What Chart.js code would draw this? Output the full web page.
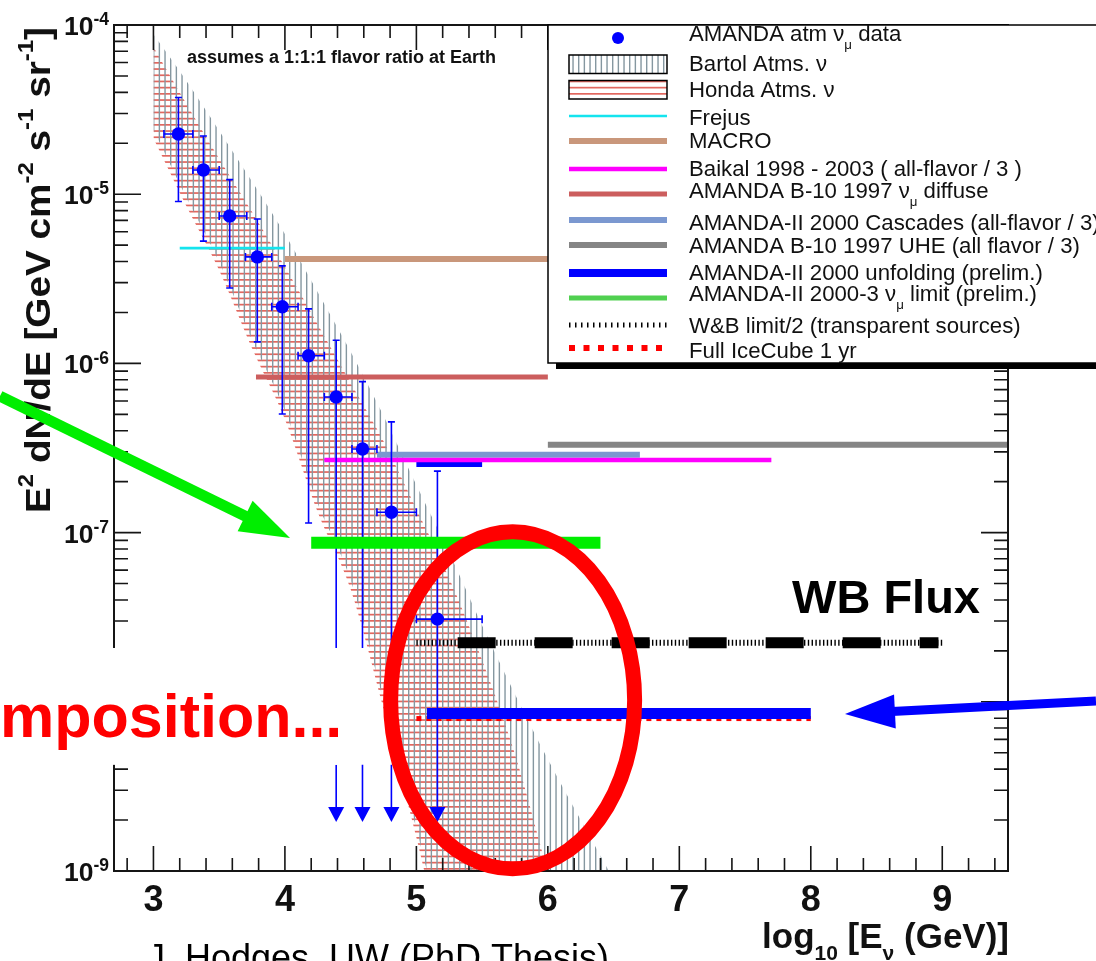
<!DOCTYPE html>
<html>
<head>
<meta charset="utf-8">
<title>Diffuse neutrino flux limits</title>
<script src="https://cdn.jsdelivr.net/npm/chart.js@4.4.1/dist/chart.umd.min.js"></script>
<style>
  html, body { margin: 0; padding: 0; background: #fff; overflow: hidden; }
</style>
</head>
<body>
<canvas id="limitChart" width="1096" height="961"></canvas>
<script>
// ---- values: x = log10(E/GeV), y = E^2 dN/dE [GeV cm^-2 s^-1 sr^-1] ----
const xRange = [2.7, 9.5];
const yRange = [1e-9, 1e-4];
const xTickValues = [3, 4, 5, 6, 7, 8, 9];
const xTickLabels = ['3', '4', '5', '6', '7', '8', '9'];
const yTickValues = [1e-9, 1e-8, 1e-7, 1e-6, 1e-5, 1e-4];
const yTickLabels = ['10^{-9}', '10^{-8}', '10^{-7}', '10^{-6}', '10^{-5}', '10^{-4}'];

// AMANDA atm nu_mu data (unfolded spectrum)
const amandaLogE   = [3.19, 3.38, 3.58, 3.79, 3.98, 4.18, 4.39, 4.59, 4.81, 5.16];
const amandaLogELo = [3.08, 3.30, 3.50, 3.70, 3.90, 4.10, 4.30, 4.51, 4.70, 5.00];
const amandaLogEHi = [3.30, 3.50, 3.71, 3.90, 4.10, 4.30, 4.51, 4.70, 5.00, 5.50];
const amandaFlux   = [2.27e-5, 1.39e-5, 7.43e-6, 4.26e-6, 2.16e-6, 1.11e-6, 6.33e-7, 3.12e-7, 1.32e-7, 3.08e-8];
const amandaFluxHi = [3.73e-5, 2.21e-5, 1.22e-5, 7.13e-6, 3.77e-6, 2.10e-6, 1.37e-6, 7.80e-7, 4.51e-7, 2.31e-7];
const amandaFluxLo = [9.06e-6, 5.28e-6, 2.79e-6, 1.34e-6, 5.02e-7, 1.14e-7, 2.08e-8, 2.08e-8, 2.08e-8, 4.24e-9];
// lower error compatible with zero -> arrows
const arrowLogE = [4.39, 4.59, 4.81, 5.16];
const arrowFrom = 4.24e-9;
const arrowTip = 1.95e-9;

// atmospheric bands (upper / lower edge)
const bartolLogE = [3.0, 3.25, 3.5, 3.75, 4.0, 4.25, 4.5, 4.75, 5.0, 5.25, 5.5, 5.75, 6.0, 6.25, 6.5];
const bartolHi = [8.81e-5, 4.68e-5, 2.37e-5, 1.19e-5, 5.82e-6, 2.63e-6, 1.17e-6, 4.90e-7, 1.91e-7, 7.59e-8, 2.82e-8, 1.11e-8, 4.57e-9, 2.00e-9, 8.9e-10];
const bartolLo = [2.40e-5, 9.55e-6, 3.98e-6, 1.38e-6, 5.25e-7, 1.48e-7, 5.25e-8, 1.02e-8, 1.78e-9, 3.2e-10, 1e-10, 1e-10, 1e-10, 1e-10, 1e-10];
const hondaLogE = [3.0, 3.25, 3.5, 3.75, 4.0, 4.25, 4.5, 4.75, 5.0, 5.25, 5.5, 5.75, 6.0];
const hondaHi = [7.41e-5, 3.43e-5, 1.62e-5, 7.85e-6, 3.72e-6, 1.70e-6, 7.67e-7, 3.47e-7, 1.38e-7, 5.37e-8, 1.76e-8, 4.90e-9, 9.8e-10];
const hondaLo = [2.14e-5, 8.51e-6, 3.55e-6, 1.23e-6, 4.68e-7, 1.32e-7, 4.62e-8, 9.1e-9, 1.58e-9, 2.5e-10, 1e-10, 1e-10, 1e-10];

// flat limits
const limitLabels = [
  'Frejus',
  'MACRO',
  'Baikal 1998 - 2003 ( all-flavor / 3 )',
  'AMANDA B-10 1997 ν_{μ} diffuse',
  'AMANDA-II 2000 Cascades (all-flavor / 3)',
  'AMANDA B-10 1997 UHE (all flavor / 3)',
  'AMANDA-II 2000 unfolding (prelim.)',
  'AMANDA-II 2000-3 ν_{μ} limit (prelim.)',
  'W&B limit/2 (transparent sources)',
  'Full IceCube 1 yr'
];
const limitFrom = [3.2, 4.0, 4.3, 3.78, 4.7, 6.0, 5.0, 4.2, 5.0, 5.0];
const limitTo   = [4.0, 6.0, 7.7, 6.0, 6.7, 9.5, 5.5, 6.4, 9.0, 8.0];
const limitFlux = [4.8e-6, 4.14e-6, 2.69e-7, 8.3e-7, 2.88e-7, 3.3e-7, 2.56e-7, 8.7e-8, 2.23e-8, 7.96e-9];

// marks added on the slide over the plot
const wbMarkLogE = [5.314, 8.971];
const wbMarkFlux = 2.23e-8;
const icMarkLogE = [5.08, 8.0];
const icMarkFlux = 8.53e-9;

const amandaLabel = 'AMANDA atm ν_{μ} data';
const bartolLabel = 'Bartol Atms. ν';
const hondaLabel = 'Honda Atms. ν';
const noteText = 'assumes a 1:1:1 flavor ratio at Earth';
const xTitle = 'log_{10} [E_{ν} (GeV)]';
const yTitle = 'E^{2} dN/dE [GeV cm^{-2} s^{-1} sr^{-1}]';
const slideTexts = ['WB Flux', 'mposition...', 'J. Hodges, UW (PhD Thesis)'];

// ---- styles ----
const FONT = '"Liberation Sans", Arial, Helvetica, sans-serif';
const limitStyles = [
  { color: '#14e4ee', width: 2.7 },
  { color: '#c9977b', width: 6 },
  { color: '#ff00ff', width: 4.5 },
  { color: '#cc5e5e', width: 5 },
  { color: '#7b98d0', width: 6 },
  { color: '#858585', width: 6 },
  { color: '#0000ff', width: 7, legendWidth: 8 },
  { color: '#00ee00', width: 12, legendColor: '#50d050', legendWidth: 5, top: true },
  { color: '#000000', width: 6, dash: [1.4, 2.4], legendWidth: 5, legendDash: [1.5, 4.5] },
  { color: '#ff0000', width: 5, dash: [5, 5], legendWidth: 6, legendDash: [6, 8.5] }
];

function makeHatch(vertical, color) {
  const c = document.createElement('canvas');
  const g = c.getContext('2d');
  if (vertical) {
    c.width = 17; c.height = 8;
    g.fillStyle = color;
    for (let k = 0; k < 3; k++) g.fillRect(k * 17 / 3, 0, 1.4, 8);
  } else {
    c.width = 8; c.height = 31;
    g.fillStyle = color;
    for (let k = 0; k < 5; k++) g.fillRect(0, k * 6.2, 8, 1.7);
  }
  return g.createPattern(c, 'repeat');
}
const bartolPattern = makeHatch(true, '#8597a0');
const hondaPattern = makeHatch(false, '#e2675f');

// rich text: a_{sub} and a^{sup}
function richParts(str, size, sc) {
  const parts = [];
  const re = /([_^])\{([^}]*)\}/g;
  let last = 0, m;
  while ((m = re.exec(str))) {
    if (m.index > last) parts.push({ t: str.slice(last, m.index), k: '' });
    parts.push({ t: m[2], k: m[1] });
    last = re.lastIndex;
  }
  if (last < str.length) parts.push({ t: str.slice(last), k: '' });
  parts.forEach(p => {
    p.size = p.k === '_' ? size * sc.subR : p.k === '^' ? size * sc.supR : size;
    p.dy = p.k === '_' ? size * sc.subDy : p.k === '^' ? size * sc.supDy : 0;
  });
  return parts;
}
const defSc = { subR: 0.62, subDy: 0.3, supR: 0.62, supDy: -0.42 };
function measureRich(ctx, str, size, weight, sc) {
  let w = 0;
  richParts(str, size, sc || defSc).forEach(p => {
    ctx.font = `${weight} ${p.size}px ${FONT}`;
    w += ctx.measureText(p.t).width;
  });
  return w;
}
function drawRich(ctx, str, x, y, size, weight, align, sc) {
  sc = sc || defSc;
  const w = measureRich(ctx, str, size, weight, sc);
  let cx = align === 'right' ? x - w : align === 'center' ? x - w / 2 : x;
  ctx.textAlign = 'left';
  ctx.textBaseline = 'alphabetic';
  richParts(str, size, sc).forEach(p => {
    ctx.font = `${weight} ${p.size}px ${FONT}`;
    ctx.fillText(p.t, cx, y + p.dy);
    cx += ctx.measureText(p.t).width;
  });
  return w;
}
const plain = s => s.replace(/[_^]\{([^}]*)\}/g, '$1');
const toXY = (xs, ys) => xs.map((v, i) => ({ x: v, y: ys[i] }));
const flat = (a, b, v) => [{ x: a, y: v }, { x: b, y: v }];

// ---- datasets ----
const datasets = [];
const pointsIndex = datasets.push({
  label: plain(amandaLabel), data: toXY(amandaLogE, amandaFlux), showLine: false,
  pointRadius: 6.7, pointHoverRadius: 6.7, pointBackgroundColor: '#0000ff', pointBorderWidth: 0,
  fill: false, order: 1
}) - 1;
datasets.push({
  label: 'WB flux mark', data: flat(wbMarkLogE[0], wbMarkLogE[1], wbMarkFlux), borderColor: '#000',
  borderWidth: 11, borderDash: [38, 39], borderCapStyle: 'butt', pointRadius: 0, fill: false, order: 0
});
datasets.push({
  label: 'IceCube mark', data: flat(icMarkLogE[0], icMarkLogE[1], icMarkFlux), borderColor: '#0000ff',
  borderWidth: 11, borderCapStyle: 'butt', pointRadius: 0, fill: false, order: 0
});
limitLabels.forEach((lab, i) => {
  const s = limitStyles[i];
  datasets.push({
    label: plain(lab), data: flat(limitFrom[i], limitTo[i], limitFlux[i]),
    borderColor: s.color, borderWidth: s.width, borderDash: s.dash || [], borderCapStyle: 'butt',
    pointRadius: 0, fill: false, order: s.top ? 0 : 2
  });
});
const bandCommon = { borderColor: 'rgba(0,0,0,0)', borderWidth: 0, pointRadius: 0, cubicInterpolationMode: 'monotone' };
datasets.push({ ...bandCommon, label: bartolLabel, data: toXY(bartolLogE, bartolHi), backgroundColor: bartolPattern, fill: '+1', order: 3 });
datasets.push({ ...bandCommon, label: 'Bartol low', data: toXY(bartolLogE, bartolLo), fill: false, order: 3 });
datasets.push({ ...bandCommon, label: hondaLabel, data: toXY(hondaLogE, hondaHi), backgroundColor: hondaPattern, fill: '+1', order: 4 });
datasets.push({ ...bandCommon, label: 'Honda low', data: toXY(hondaLogE, hondaLo), fill: false, order: 4 });

// ---- plugins ----
const errorBars = {
  id: 'errorBars',
  beforeDatasetDraw(chart, args) {
    if (args.index !== pointsIndex) return;
    const { ctx, scales: { x, y } } = chart;
    ctx.save();
    ctx.strokeStyle = '#0000ff';
    ctx.fillStyle = '#0000ff';
    ctx.lineWidth = 1.6;
    ctx.beginPath();
    amandaLogE.forEach((e, i) => {
      const px = x.getPixelForValue(e), py = y.getPixelForValue(amandaFlux[i]);
      const top = y.getPixelForValue(amandaFluxHi[i]), bot = y.getPixelForValue(amandaFluxLo[i]);
      const l = x.getPixelForValue(amandaLogELo[i]), r = x.getPixelForValue(amandaLogEHi[i]);
      ctx.moveTo(px, top); ctx.lineTo(px, bot);
      ctx.moveTo(px - 3.5, top); ctx.lineTo(px + 3.5, top);
      if (!arrowLogE.includes(e)) { ctx.moveTo(px - 3.5, bot); ctx.lineTo(px + 3.5, bot); }
      ctx.moveTo(l, py); ctx.lineTo(r, py);
      ctx.moveTo(l, py - 4); ctx.lineTo(l, py + 4);
      ctx.moveTo(r, py - 4); ctx.lineTo(r, py + 4);
    });
    arrowLogE.forEach(e => {
      const px = x.getPixelForValue(e);
      ctx.moveTo(px, y.getPixelForValue(arrowFrom));
      ctx.lineTo(px, y.getPixelForValue(arrowTip) - 14);
    });
    ctx.stroke();
    arrowLogE.forEach(e => {
      const px = x.getPixelForValue(e), tip = y.getPixelForValue(arrowTip);
      ctx.beginPath();
      ctx.moveTo(px, tip); ctx.lineTo(px - 8, tip - 15); ctx.lineTo(px + 8, tip - 15);
      ctx.closePath(); ctx.fill();
    });
    ctx.restore();
  }
};

const rootFrame = {
  id: 'rootFrame',
  afterDatasetsDraw(chart) {
    const { ctx, chartArea: a, scales: { x, y } } = chart;
    ctx.save();
    ctx.strokeStyle = '#151515';
    ctx.lineWidth = 1.6;
    ctx.beginPath();
    for (let k = 14; k <= 47; k++) {
      const px = x.getPixelForValue(k / 5);
      const len = k % 5 === 0 ? 25 : 13;
      ctx.moveTo(px, a.bottom); ctx.lineTo(px, a.bottom - len);
      ctx.moveTo(px, a.top); ctx.lineTo(px, a.top + len);
    }
    for (let e = -9; e <= -4; e++) {
      for (let m = 1; m <= 9; m++) {
        if (e === -4 && m > 1) break;
        const py = y.getPixelForValue(m * Math.pow(10, e));
        const len = m === 1 ? 27 : 14;
        ctx.moveTo(a.left, py); ctx.lineTo(a.left + len, py);
        ctx.moveTo(a.right, py); ctx.lineTo(a.right - len, py);
      }
    }
    ctx.stroke();
    ctx.lineWidth = 2;
    ctx.strokeRect(a.left, a.top, a.right - a.left, a.bottom - a.top);

    ctx.fillStyle = '#111';
    ctx.font = `bold 36px ${FONT}`;
    ctx.textAlign = 'center';
    ctx.textBaseline = 'alphabetic';
    xTickValues.forEach((v, i) => ctx.fillText(xTickLabels[i], x.getPixelForValue(v), a.bottom + 40));
    const tickSc = { subR: 0.6, subDy: 0.3, supR: 0.66, supDy: -0.37 };
    yTickValues.forEach((v, i) => {
      drawRich(ctx, yTickLabels[i], a.left - 5, y.getPixelForValue(v) + 10, 26.5, 'bold', 'right', tickSc);
    });

    drawRich(ctx, xTitle, a.right + 1, a.bottom + 77, 35, 'bold', 'right',
      { subR: 0.6, subDy: 0.34, supR: 0.6, supDy: -0.4 });

    const ySc = { subR: 0.6, subDy: 0.3, supR: 0.62, supDy: -0.48 };
    const yLen = 486;
    const w = measureRich(ctx, yTitle, 35, 'bold', ySc);
    ctx.save();
    ctx.translate(50, a.top + yLen + 2);
    ctx.rotate(-Math.PI / 2);
    ctx.scale(yLen / w, 1);
    drawRich(ctx, yTitle, 0, 0, 35, 'bold', 'left', ySc);
    ctx.restore();

    ctx.font = `bold 18px ${FONT}`;
    ctx.textAlign = 'left';
    ctx.fillText(noteText, x.getPixelForValue(3.255), y.getPixelForValue(5.96e-5));
    ctx.restore();
  }
};

function legendLine(ctx, x0, x1, yc, color, width, dash) {
  ctx.save();
  ctx.strokeStyle = color;
  ctx.lineWidth = width;
  ctx.lineCap = 'butt';
  ctx.setLineDash(dash || []);
  ctx.beginPath(); ctx.moveTo(x0, yc); ctx.lineTo(x1, yc); ctx.stroke();
  ctx.restore();
}

function drawArrow(ctx, x0, y0, x1, y1, shaft, headLen, headHalf, color) {
  const ang = Math.atan2(y1 - y0, x1 - x0), c = Math.cos(ang), s = Math.sin(ang);
  const bx = x1 - headLen * c, by = y1 - headLen * s;
  ctx.strokeStyle = color; ctx.fillStyle = color;
  ctx.lineWidth = shaft; ctx.lineCap = 'butt';
  ctx.beginPath(); ctx.moveTo(x0, y0); ctx.lineTo(bx + 3 * c, by + 3 * s); ctx.stroke();
  ctx.beginPath();
  ctx.moveTo(x1, y1);
  ctx.lineTo(bx - headHalf * s, by + headHalf * c);
  ctx.lineTo(bx + headHalf * s, by - headHalf * c);
  ctx.closePath(); ctx.fill();
}

const slideOverlay = {
  id: 'slideOverlay',
  afterDraw(chart) {
    const { ctx, chartArea: a, scales: { x, y } } = chart;
    ctx.save();
    // legend box with shadow
    const L = { left: 548, top: a.top, right: 1120, bottom: 363 };
    ctx.fillStyle = '#000';
    ctx.fillRect(L.left + 8, L.bottom, L.right - L.left, 6);
    ctx.fillStyle = '#fff';
    ctx.fillRect(L.left, L.top, L.right - L.left, L.bottom - L.top);
    ctx.strokeStyle = '#000'; ctx.lineWidth = 1.5;
    ctx.strokeRect(L.left, L.top, L.right - L.left, L.bottom - L.top);

    const symX0 = 569, symX1 = 667, textX = 689;
    const textY = [33, 63, 89, 117, 140, 168, 190, 222, 245, 272, 293, 325, 350];
    const symY = [38, 64, 89.5, 116, 141, 169, 194, 220, 245, 273, 298, 325, 348];
    const labels = [amandaLabel, bartolLabel, hondaLabel].concat(limitLabels);
    // symbols
    ctx.fillStyle = '#0000ff';
    ctx.beginPath(); ctx.arc((symX0 + symX1) / 2, symY[0], 6, 0, Math.PI * 2); ctx.fill();
    [[bartolPattern, 1], [hondaPattern, 2]].forEach(([pat, r]) => {
      ctx.fillStyle = pat;
      ctx.fillRect(symX0, symY[r] - 9, symX1 - symX0, 18.5);
      ctx.strokeStyle = '#000'; ctx.lineWidth = 1.5;
      ctx.strokeRect(symX0, symY[r] - 9, symX1 - symX0, 18.5);
    });
    limitStyles.forEach((s, i) => {
      legendLine(ctx, symX0, symX1, symY[i + 3], s.legendColor || s.color, s.legendWidth || s.width, s.legendDash);
    });
    ctx.fillStyle = '#111';
    const legSc = { subR: 0.6, subDy: 0.35, supR: 0.6, supDy: -0.4 };
    labels.forEach((lab, i) => drawRich(ctx, lab, textX, textY[i] + 8, 22.2, 'normal', 'left', legSc));

    // white patch behind the slide caption
    const bx0 = x.getPixelForValue(1.833), bx1 = x.getPixelForValue(4.495);
    const by0 = y.getPixelForValue(2.08e-8), by1 = y.getPixelForValue(4.24e-9);
    ctx.fillStyle = '#fff';
    ctx.fillRect(bx0, by0, bx1 - bx0, by1 - by0);
    ctx.fillStyle = '#ff0000';
    ctx.font = `bold 61px ${FONT}`;
    ctx.textAlign = 'left'; ctx.textBaseline = 'alphabetic';
    ctx.fillText(slideTexts[1], x.getPixelForValue(1.833), y.getPixelForValue(6.19e-9));

    // red ellipse
    ctx.strokeStyle = '#ff0000'; ctx.lineWidth = 15;
    ctx.beginPath();
    ctx.ellipse(x.getPixelForValue(5.732), y.getPixelForValue(1.02e-8), 122, 168.5, 0, 0, Math.PI * 2);
    ctx.stroke();

    // arrows
    drawArrow(ctx, x.getPixelForValue(1.833), y.getPixelForValue(6.41e-7),
      x.getPixelForValue(4.039), y.getPixelForValue(9.29e-8), 11, 50, 17, '#00ee00');
    drawArrow(ctx, x.getPixelForValue(10.169), y.getPixelForValue(1.01e-8),
      x.getPixelForValue(8.26), y.getPixelForValue(8.47e-9), 9, 50, 17, '#0000ff');

    ctx.fillStyle = '#000';
    ctx.font = `bold 47px ${FONT}`;
    ctx.textAlign = 'right';
    ctx.fillText(slideTexts[0], x.getPixelForValue(9.287), y.getPixelForValue(3.35e-8));
    ctx.font = `36px ${FONT}`;
    ctx.textAlign = 'left';
    ctx.fillText(slideTexts[2], x.getPixelForValue(2.951), y.getPixelForValue(2.6e-10));
    ctx.restore();
  }
};

new Chart(document.getElementById('limitChart'), {
  type: 'line',
  data: { datasets },
  options: {
    responsive: false,
    animation: false,
    devicePixelRatio: 1,
    events: [],
    layout: { padding: { left: 114, top: 25, right: 88, bottom: 90 } },
    scales: {
      x: { type: 'linear', min: xRange[0], max: xRange[1], display: false },
      y: { type: 'logarithmic', min: yRange[0], max: yRange[1], display: false }
    },
    plugins: { legend: { display: false }, tooltip: { enabled: false } }
  },
  plugins: [errorBars, rootFrame, slideOverlay]
});
</script>
</body>
</html>
